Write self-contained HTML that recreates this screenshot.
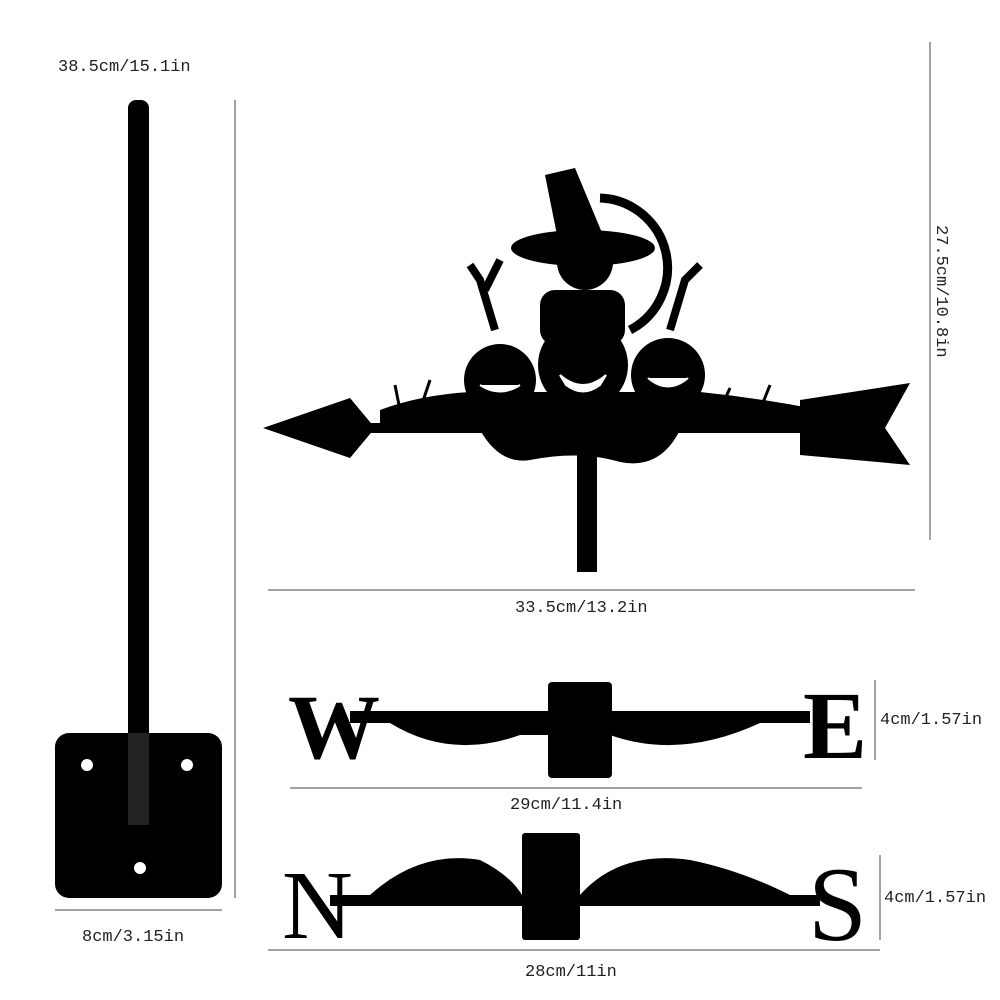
<!DOCTYPE html>
<html><head><meta charset="utf-8"><style>
html,body{margin:0;padding:0;background:#fff;}
svg{display:block}
text{font-family:"Liberation Mono",monospace;fill:#222;font-size:17px}
</style></head><body>
<svg width="1000" height="1000" viewBox="0 0 1000 1000">
<rect x="128" y="100" width="21" height="725" rx="8" fill="#000"/>
<rect x="55" y="733" width="167" height="165" rx="14" fill="#000"/>
<rect x="128" y="733" width="21" height="92" fill="#222"/>
<circle cx="87" cy="765" r="6" fill="#fff"/><circle cx="187" cy="765" r="6" fill="#fff"/><circle cx="140" cy="868" r="6" fill="#fff"/>
<line x1="235" y1="100" x2="235" y2="898" stroke="#444" stroke-width="1"/>
<line x1="55" y1="910" x2="222" y2="910" stroke="#444" stroke-width="1"/>
<text x="58" y="71">38.5cm/15.1in</text>
<text x="82" y="941">8cm/3.15in</text>
<line x1="930" y1="42" x2="930" y2="540" stroke="#444"/>
<text transform="translate(937,225) rotate(90)">27.5cm/10.8in</text>
<line x1="268" y1="590" x2="915" y2="590" stroke="#444"/>
<text x="515" y="612">33.5cm/13.2in</text>
<!-- weathervane -->
<rect x="577" y="455" width="20" height="117" fill="#000"/>
<rect x="330" y="423" width="500" height="10" fill="#000"/>
<polygon points="263,428 350,398 375,428 350,458" fill="#000"/>
<polygon points="800,400 910,383 885,428 910,465 800,455" fill="#000"/>
<path d="M380,410 Q420,395 470,392 L700,392 Q760,398 820,410 L820,425 L380,425Z" fill="#000"/>
<path d="M480,430 Q500,465 530,460 Q580,450 620,462 Q660,470 680,430 Z" fill="#000"/>
<g fill="#000" stroke="#000" stroke-width="3">
<line x1="400" y1="410" x2="395" y2="385"/><line x1="420" y1="410" x2="430" y2="380"/><line x1="720" y1="410" x2="730" y2="388"/><line x1="760" y1="410" x2="770" y2="385"/>
</g>
<circle cx="500" cy="380" r="36" fill="#000"/><circle cx="583" cy="365" r="45" fill="#000"/><circle cx="668" cy="375" r="37" fill="#000"/>
<path d="M560,375 Q583,395 606,375 L600,385 Q583,398 566,385Z M480,385 Q500,398 520,385 M648,378 Q668,395 688,378" fill="#fff" stroke="#fff" stroke-width="2"/>
<rect x="540" y="290" width="85" height="55" rx="15" fill="#000"/>
<circle cx="585" cy="262" r="28" fill="#000"/>
<ellipse cx="583" cy="248" rx="72" ry="18" fill="#000"/>
<polygon points="545,175 575,168 605,240 558,240" fill="#000"/>
<path d="M600,198 A70,70 0 0 1 630,330" stroke="#000" stroke-width="9" fill="none"/>
<path d="M495,330 L480,280 L470,265 M485,290 L500,260" stroke="#000" stroke-width="8" fill="none"/>
<path d="M670,330 L685,280 L700,265" stroke="#000" stroke-width="8" fill="none"/>
<!-- W E -->
<rect x="350" y="711" width="460" height="12" fill="#000"/>
<path d="M390,723 Q450,760 520,735 L550,735 L550,723Z M610,723 L610,735 Q680,760 760,723Z" fill="#000"/>
<rect x="548" y="682" width="64" height="96" rx="4" fill="#000"/>
<text x="288" y="758" style="font-family:'Liberation Serif',serif;font-weight:bold;font-size:92px;fill:#000">W</text>
<text x="803" y="758" style="font-family:'Liberation Serif',serif;font-weight:bold;font-size:96px;fill:#000">E</text>
<line x1="875" y1="680" x2="875" y2="760" stroke="#444"/>
<text x="880" y="724">4cm/1.57in</text>
<line x1="290" y1="788" x2="862" y2="788" stroke="#444"/>
<text x="510" y="809">29cm/11.4in</text>
<!-- N S -->
<rect x="330" y="895" width="490" height="11" fill="#000"/>
<path d="M370,895 Q420,850 480,860 Q510,875 522,895Z M580,895 Q620,850 690,860 Q740,870 790,895Z" fill="#000"/>
<rect x="522" y="833" width="58" height="107" rx="3" fill="#000"/>
<text x="282" y="938" style="font-family:'Liberation Serif',serif;font-size:98px;fill:#000">N</text>
<text x="808" y="940" style="font-family:'Liberation Serif',serif;font-size:106px;fill:#000">S</text>
<line x1="880" y1="855" x2="880" y2="940" stroke="#444"/>
<text x="884" y="902">4cm/1.57in</text>
<line x1="268" y1="950" x2="880" y2="950" stroke="#444"/>
<text x="525" y="976">28cm/11in</text>
</svg>
</body></html>
